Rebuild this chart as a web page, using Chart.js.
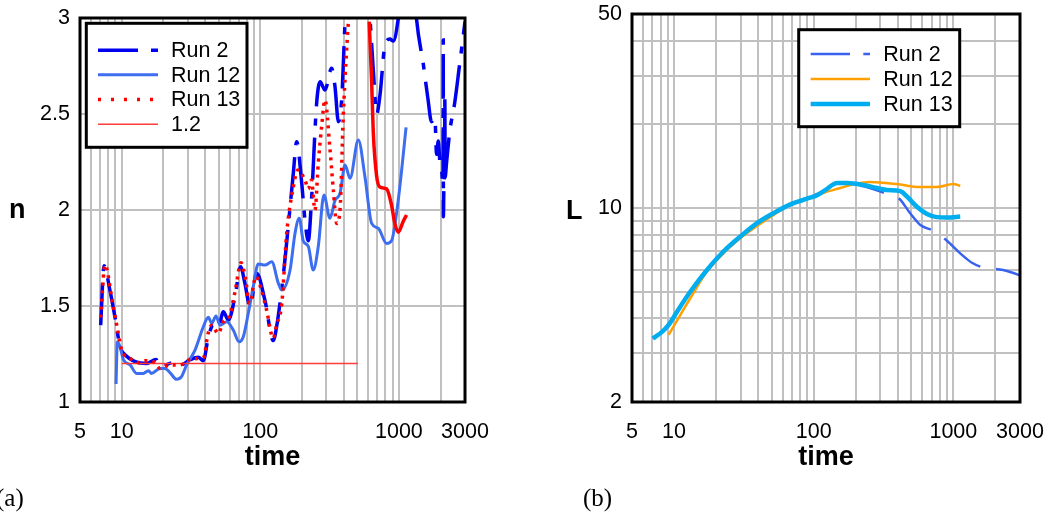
<!DOCTYPE html>
<html>
<head>
<meta charset="utf-8">
<script src="https://cdn.jsdelivr.net/npm/chart.js@4.4.0/dist/chart.umd.min.js"></script>
<style>
    body { margin: 0; background: #fff; width: 1049px; height: 514px; position: relative; overflow: hidden; }
    .box { position: absolute; top: 0; height: 514px; }
    #boxA { left: 0; width: 520px; }
    #boxB { left: 540px; width: 509px; }
    .lbl { position: absolute; font-family: 'Liberation Sans', Arial, sans-serif; font-weight: bold; font-size: 27px; line-height: 1; }
    .cap { position: absolute; font-family: 'Liberation Serif', 'Times New Roman', serif; font-size: 25px; line-height: 1; }
</style>
</head>
<body>
<div class="box" id="boxA"><canvas id="chartA"></canvas></div>
<div class="box" id="boxB"><canvas id="chartB"></canvas></div>
<div class="lbl" style="left:9px;top:196px">n</div>
<div class="lbl" style="left:566px;top:197px">L</div>
<div class="cap" style="left:-4px;top:485px">(a)</div>
<div class="cap" style="left:583px;top:485px">(b)</div>
<script>
// axis ticks
const xTicks = [5, 6, 7, 8, 9, 10, 20, 30, 40, 50, 60, 70, 80, 90, 100, 200, 300, 400, 500, 600, 700, 800, 900, 1000, 2000, 3000];
const xLabels = [5, 10, 100, 1000, 3000];
const nTicks = [1, 1.5, 2, 2.5, 3];
const lTicks = [2, 3, 4, 5, 6, 7, 8, 9, 10, 20, 30, 40, 50];
const lLabels = [2, 10, 50];

// (a) n versus time
const run2Time = [7.05, 7.45, 8.23, 8.95, 9.72, 10.6, 12.5, 15.1, 17.7, 18.9, 23.6, 26.3, 31.1, 35.7, 38.8, 42.2, 45.8, 49.8, 54.1, 58.8, 65.7, 72.1, 77.4, 84.3, 94.1, 108, 124, 131, 147, 159, 173, 183, 199, 210, 222, 234, 255, 270, 293, 327, 346, 366, 387, 409, 450, 520, 580, 620, 655, 692, 731, 794, 863, 912, 991, 1100, 1250, 1343, 1500, 1620, 1720, 1820, 1870, 1925, 1977, 2030, 2070, 2085, 2090, 2095, 2110, 2140, 2147, 2155, 2210, 2330, 2530, 2740, 3000];
const run2N = [1.40, 1.71, 1.58, 1.44, 1.29, 1.245, 1.21, 1.20, 1.222, 1.184, 1.205, 1.19, 1.22, 1.233, 1.215, 1.34, 1.40, 1.384, 1.47, 1.427, 1.55, 1.705, 1.618, 1.497, 1.67, 1.53, 1.32, 1.39, 1.67, 1.913, 2.19, 2.356, 2.14, 1.948, 1.84, 2.05, 2.556, 2.668, 2.625, 2.738, 2.642, 2.46, 2.58, 2.98, 3.4, 3.5, 3.3, 2.99, 2.72, 2.50, 2.60, 2.86, 2.89, 2.88, 3.0, 3.3, 3.3, 2.99, 2.76, 2.58, 2.46, 2.48, 2.29, 2.36, 2.25, 2.22, 2.15, 2.20, 2.885, 1.965, 2.10, 2.30, 2.6, 2.17, 2.25, 2.41, 2.56, 2.755, 2.98];
const run12Time = [9.1, 9.3, 9.72, 10.3, 11.5, 12.8, 14.3, 15.6, 16.4, 18.9, 20.5, 22.3, 24.9, 27.0, 29.4, 33.8, 38.8, 42.2, 44.6, 47.9, 51.2, 57.2, 63.8, 70.2, 75.4, 81.9, 88.9, 96.6, 108, 121, 135, 143, 164, 178, 191, 204, 222, 241, 262, 288, 318, 346, 376, 409, 444, 510, 569, 636, 710, 815, 885, 989, 1127];
const run12N = [1.094, 1.314, 1.288, 1.219, 1.193, 1.149, 1.149, 1.163, 1.149, 1.175, 1.175, 1.153, 1.118, 1.132, 1.193, 1.27, 1.392, 1.441, 1.41, 1.448, 1.40, 1.418, 1.375, 1.314, 1.34, 1.462, 1.60, 1.719, 1.713, 1.73, 1.618, 1.583, 1.6875, 1.878, 1.957, 1.84, 1.81, 1.6875, 1.81, 2.078, 1.957, 2.05, 2.087, 2.234, 2.165, 2.365, 2.173, 1.93, 1.905, 1.826, 1.84, 2.05, 2.43];
const run13Time = [7.05, 7.57, 8.6, 9.3, 10.0, 11.5, 13.2, 14.7, 16.9, 18.9, 22.3, 26.3, 31.1, 36.7, 39.3, 41.5, 44.6, 49.8, 54.1, 59.7, 65.7, 72.6, 78.5, 83.4, 93.1, 102, 111, 124, 131, 143, 155, 173, 187, 210, 222, 234, 248, 262, 277, 293, 318, 336, 356, 376, 397, 432, 480, 560, 611, 636, 653, 690, 729, 815, 885, 935, 989, 1074, 1135];
const run13N = [1.44, 1.714, 1.514, 1.384, 1.27, 1.227, 1.205, 1.215, 1.21, 1.175, 1.193, 1.193, 1.222, 1.227, 1.236, 1.34, 1.40, 1.357, 1.418, 1.444, 1.574, 1.725, 1.635, 1.514, 1.653, 1.583, 1.479, 1.333, 1.40, 1.514, 1.878, 2.12, 2.208, 2.156, 2.11, 2.156, 2.0, 2.243, 2.434, 2.573, 2.32, 2.11, 1.93, 2.0, 2.49, 2.98, 3.4, 3.4, 2.98, 2.668, 2.41, 2.18, 2.12, 2.11, 2.026, 1.93, 1.884, 1.94, 1.974];
const refTime = [10, 505];
const refN = [1.2, 1.2];

// (b) L versus time
const run2TimeB = [7.06, 8.2, 10.5, 13.1, 17.2, 22.6, 29.8, 39.3, 51.6, 68, 89.5, 121, 150, 180, 228, 280, 325, 410, 491, 580, 722, 900, 1120, 1358, 1645, 2050, 2417, 2930, 3000];
const run2L = [3.39, 3.58, 4.23, 5.0, 5.98, 6.97, 7.89, 8.82, 9.58, 10.3, 10.8, 11.6, 12.2, 12.3, 11.97, 11.6, 11.3, 10.8, 9.57, 8.69, 8.26, 7.62, 6.86, 6.35, 6.1, 6.02, 5.93, 5.74, 5.7];
const run12TimeB = [9.15, 11.1, 13.8, 17.2, 23.9, 29.8, 39.3, 51.6, 68, 89.5, 118, 155, 183, 254, 394, 580, 763, 1003, 1120];
const run12L = [3.49, 4.12, 4.95, 5.9, 7.06, 7.78, 8.61, 9.44, 10.26, 10.8, 11.35, 11.8, 12.1, 12.4, 12.2, 11.9, 11.9, 12.2, 12.0];
const run13TimeB = [7.06, 8.2, 9.15, 10.5, 13.1, 17.2, 22.6, 29.8, 39.3, 51.6, 68, 89.5, 105, 121, 147, 173, 228, 284, 334, 417, 465, 548, 647, 763, 900, 1120];
const run13L = [3.39, 3.58, 3.79, 4.23, 5.0, 5.98, 6.97, 7.89, 8.82, 9.58, 10.3, 10.8, 11.1, 11.6, 12.3, 12.3, 12.1, 11.8, 11.6, 11.5, 11.0, 10.1, 9.52, 9.27, 9.24, 9.31];

const FONT = "'Liberation Sans', Arial, sans-serif";
const GRID = '#c0c0c0';

function toPoints(xs, ys) {
    return xs.map((x, i) => ({ x: x, y: ys[i] }));
}

function timeAxis() {
    return {
        type: 'logarithmic',
        min: 5,
        max: 3000,
        afterBuildTicks: scale => { scale.ticks = xTicks.map(v => ({ value: v })); },
        afterFit: scale => { scale.height = 112; scale.paddingLeft = 0; scale.paddingRight = 0; },
        grid: { color: GRID, lineWidth: 2, drawTicks: false },
        border: { display: false },
        ticks: {
            autoSkip: false, maxRotation: 0, padding: 17, color: '#000',
            font: { family: FONT, size: 21.5 },
            callback: v => xLabels.includes(v) ? String(v) : ''
        },
        title: {
            display: true, text: 'time', color: '#000',
            font: { family: FONT, size: 27, weight: 'bold' },
            padding: { top: 0, bottom: 40 }
        }
    };
}

function frameAndLegend(box, items) {
    return {
        id: 'frameAndLegend',
        afterDraw(chart) {
            const ctx = chart.ctx;
            const a = chart.chartArea;
            ctx.save();
            ctx.strokeStyle = '#000';
            ctx.lineWidth = 3;
            ctx.setLineDash([]);
            ctx.strokeRect(a.left, a.top, a.right - a.left, a.bottom - a.top);

            ctx.fillStyle = '#fff';
            ctx.fillRect(box.x, box.y, box.w, box.h);
            ctx.strokeRect(box.x, box.y, box.w, box.h);

            items.forEach(item => {
                const ds = chart.data.datasets[item.index];
                ctx.strokeStyle = ds.borderColor;
                ctx.lineWidth = ds.borderWidth;
                ctx.setLineDash(item.dash);
                ctx.beginPath();
                ctx.moveTo(box.lineFrom, item.y);
                ctx.lineTo(box.lineTo, item.y);
                ctx.stroke();
                ctx.setLineDash([]);
                ctx.fillStyle = '#000';
                ctx.font = '21.5px ' + FONT;
                ctx.textBaseline = 'middle';
                ctx.textAlign = 'left';
                ctx.fillText(ds.label, box.textX, item.y + 1);
            });
            ctx.restore();
        }
    };
}

document.addEventListener('DOMContentLoaded', function () {

    new Chart(document.getElementById('chartA'), {
        type: 'line',
        data: {
            datasets: [
                {
                    label: 'Run 13', data: toPoints(run13Time, run13N), order: 0,
                    borderColor: '#ff0000', borderWidth: 3.5, borderDash: [3, 5],
                    segment: { borderDash: ctx => ctx.p0.parsed.x >= 600 ? [] : undefined }
                },
                { label: 'Run 2', data: toPoints(run2Time, run2N), order: 3, borderColor: '#0000f0', borderWidth: 3.5, borderDash: [42, 12, 7, 12] },
                { label: 'Run 12', data: toPoints(run12Time, run12N), order: 2, borderColor: '#3d6ef0', borderWidth: 3 },
                { label: '1.2', data: toPoints(refTime, refN), order: 1, borderColor: '#ff3b3b', borderWidth: 1.5, cubicInterpolationMode: 'default' }
            ]
        },
        options: {
            responsive: true,
            maintainAspectRatio: false,
            animation: false,
            layout: { padding: { left: 0, top: 18, right: 55, bottom: 0 } },
            elements: { point: { radius: 0 }, line: { cubicInterpolationMode: 'monotone', fill: false } },
            plugins: { legend: { display: false }, tooltip: { enabled: false } },
            scales: {
                x: timeAxis(),
                y: {
                    type: 'linear', min: 1, max: 3,
                    afterBuildTicks: scale => { scale.ticks = nTicks.map(v => ({ value: v })); },
                    afterFit: scale => { scale.width = 80; scale.paddingTop = 0; scale.paddingBottom = 0; },
                    grid: { color: GRID, lineWidth: 2, drawTicks: false },
                    border: { display: false },
                    ticks: { padding: 10, color: '#000', font: { family: FONT, size: 21.5 }, callback: v => String(v) }
                }
            }
        },
        plugins: [frameAndLegend(
            { x: 86.3, y: 23.3, w: 160.7, h: 124, lineFrom: 98, lineTo: 158, textX: 171 },
            [
                { index: 1, y: 50.3, dash: [40, 13, 7, 13] },
                { index: 2, y: 74.8, dash: [] },
                { index: 0, y: 99.5, dash: [3, 10] },
                { index: 3, y: 124.2, dash: [] }
            ]
        )]
    });

    new Chart(document.getElementById('chartB'), {
        type: 'line',
        data: {
            datasets: [
                { label: 'Run 2', data: toPoints(run2TimeB, run2L), order: 2, borderColor: '#3a62f0', borderWidth: 2.5, borderDash: [46, 16] },
                { label: 'Run 12', data: toPoints(run12TimeB, run12L), order: 1, borderColor: '#ffa000', borderWidth: 2.5 },
                { label: 'Run 13', data: toPoints(run13TimeB, run13L), order: 0, borderColor: '#00adef', borderWidth: 4.5 }
            ]
        },
        options: {
            responsive: true,
            maintainAspectRatio: false,
            animation: false,
            layout: { padding: { left: 0, top: 14, right: 29, bottom: 0 } },
            elements: { point: { radius: 0 }, line: { cubicInterpolationMode: 'monotone', fill: false } },
            plugins: { legend: { display: false }, tooltip: { enabled: false } },
            scales: {
                x: timeAxis(),
                y: {
                    type: 'logarithmic', min: 2, max: 50,
                    afterBuildTicks: scale => { scale.ticks = lTicks.map(v => ({ value: v })); },
                    afterFit: scale => { scale.width = 92; scale.paddingTop = 0; scale.paddingBottom = 0; },
                    grid: { color: GRID, lineWidth: 2, drawTicks: false },
                    border: { display: false },
                    ticks: {
                        autoSkip: false, padding: 10, color: '#000', font: { family: FONT, size: 21.5 },
                        callback: v => lLabels.includes(v) ? String(v) : ''
                    }
                }
            }
        },
        plugins: [frameAndLegend(
            { x: 258.7, y: 29.7, w: 161, h: 97, lineFrom: 270.7, lineTo: 330, textX: 343.3 },
            [
                { index: 0, y: 54, dash: [39.3, 13.3, 6.7, 13] },
                { index: 1, y: 79, dash: [] },
                { index: 2, y: 104, dash: [] }
            ]
        )]
    });
});
</script>
</body>
</html>
